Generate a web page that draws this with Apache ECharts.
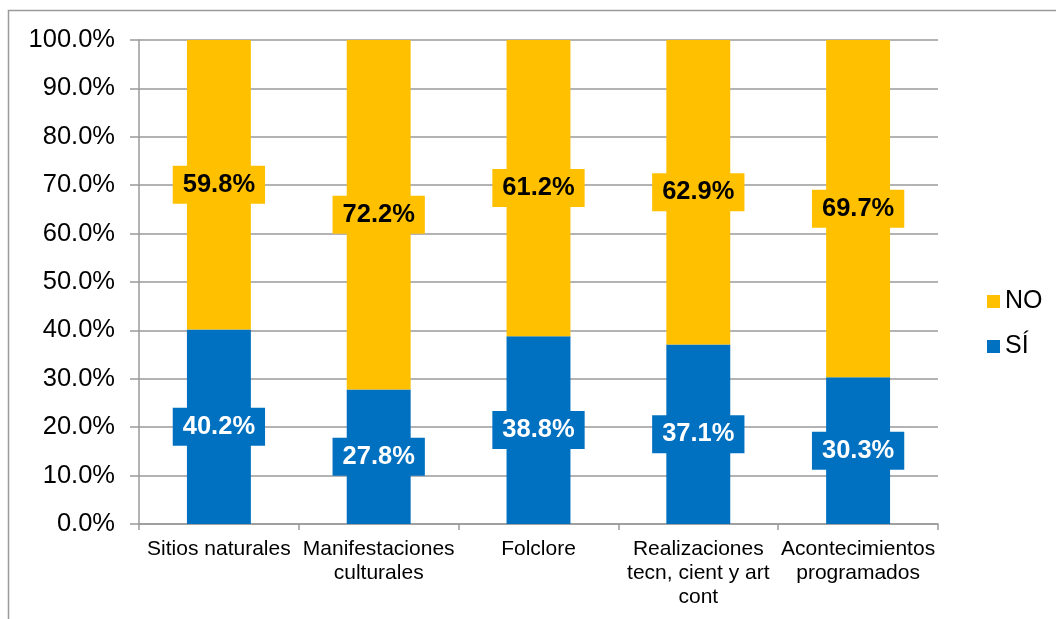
<!DOCTYPE html>
<html>
<head>
<meta charset="utf-8">
<script src="https://cdn.jsdelivr.net/npm/echarts@6/dist/echarts.min.js"></script>
<style>
html,body{margin:0;padding:0;background:#fff;}
#chart{width:1056px;height:619px;}
</style>
</head>
<body>
<div id="chart"></div>
<script>
const categories = ["Sitios naturales", "Manifestaciones\nculturales", "Folclore", "Realizaciones\ntecn, cient y art\ncont", "Acontecimientos\nprogramados"];
const siValues = [40.2, 27.8, 38.8, 37.1, 30.3];
const noValues = [59.8, 72.2, 61.2, 62.9, 69.7];
const seriesNames = ["SÍ", "NO"];
const legendOrder = ["NO", "SÍ"];

const FONT = "Arial, 'Liberation Sans', sans-serif";
const chart = echarts.init(document.getElementById('chart'), null, {renderer: 'canvas'});

function labelStyle(color, bg) {
  return {
    show: true,
    position: 'inside',
    formatter: p => p.value.toFixed(1) + '%',
    color: color,
    fontFamily: FONT,
    fontWeight: 'bold',
    fontSize: 25.5,
    lineHeight: 26,
    backgroundColor: bg,
    padding: [6, 10]
  };
}

chart.setOption({
  animation: false,
  backgroundColor: '#ffffff',
  graphic: [{
    type: 'rect',
    shape: {x: 8.5, y: 10.5, width: 1200, height: 800},
    style: {fill: 'none', stroke: '#9a9a9a', lineWidth: 1.5},
    silent: true,
    z: -1
  }],
  grid: {left: 139, right: 118, top: 40, bottom: 95, containLabel: false},
  legend: {
    data: legendOrder,
    orient: 'vertical',
    left: 982,
    top: 284,
    icon: 'rect',
    itemWidth: 13,
    itemHeight: 13,
    itemGap: 20,
    textStyle: {fontFamily: FONT, fontSize: 25, lineHeight: 25, color: '#000'}
  },
  xAxis: {
    type: 'category',
    data: categories,
    axisLine: {lineStyle: {color: '#9a9a9a', width: 1.5}},
    axisTick: {show: true, length: 6, lineStyle: {color: '#9a9a9a', width: 1.5}},
    axisLabel: {fontFamily: FONT, fontSize: 21, lineHeight: 24, color: '#000', margin: 13, interval: 0}
  },
  yAxis: {
    type: 'value',
    min: 0,
    max: 100,
    interval: 10,
    axisLine: {show: true, lineStyle: {color: '#9a9a9a', width: 1.5}},
    axisTick: {show: true, length: 9, lineStyle: {color: '#9a9a9a', width: 1.5}},
    splitLine: {show: true, lineStyle: {color: '#9a9a9a', width: 1.5}},
    axisLabel: {fontFamily: FONT, fontSize: 25.5, color: '#000', margin: 24, formatter: v => v.toFixed(1) + '%'}
  },
  series: [
    {
      name: seriesNames[0],
      type: 'bar',
      stack: 'total',
      data: siValues,
      barWidth: '40%',
      itemStyle: {color: '#0070C0'},
      label: labelStyle('#ffffff', '#0070C0')
    },
    {
      name: seriesNames[1],
      type: 'bar',
      stack: 'total',
      data: noValues,
      barWidth: '40%',
      itemStyle: {color: '#FFC000'},
      label: labelStyle('#000000', '#FFC000')
    }
  ]
});
</script>
</body>
</html>
